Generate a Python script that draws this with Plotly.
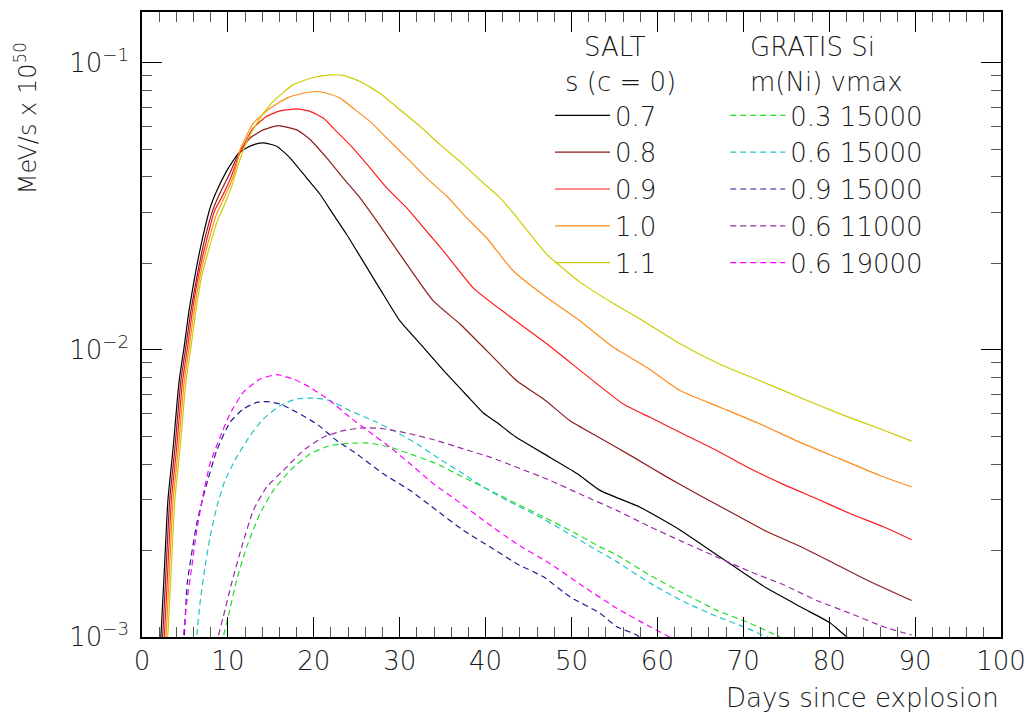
import plotly.graph_objects as go

# ---------------- data ----------------
salt_labels = ["0.7", "0.8", "0.9", "1.0", "1.1"]
salt_colors = ["#000000", "#8e1c1c", "#ff1a1a", "#ff8c1a", "#cccc00"]

s07_days = [2.0, 2.27, 2.68, 3.02, 3.59, 4.32, 4.92, 5.46, 6.15, 6.97, 7.99, 8.80, 9.83, 10.6, 11.2,
            12.2, 13.2, 14.2, 15.68, 17.23, 19.17, 20.72, 22.27, 23.83, 25.0, 27.7, 30.03, 32.75, 35.47,
            38.18, 39.7, 41.33, 42.49, 43.66, 47.5, 50.64, 53.32, 57.98, 62.63, 67.29, 72.72, 76.95,
            80.09, 82.07, 89.6]
s07_vals = [8e-4, 1.094e-3, 1.915e-3, 3.0e-3, 4.44e-3, 7.78e-3, 1.03e-2, 1.36e-2, 1.8e-2, 2.39e-2,
            3.16e-2, 3.63e-2, 4.18e-2, 4.55e-2, 4.82e-2, 5.05e-2, 5.2e-2, 5.25e-2, 5.11e-2, 4.66e-2,
            3.96e-2, 3.48e-2, 2.96e-2, 2.52e-2, 2.21e-2, 1.63e-2, 1.26e-2, 1.02e-2, 8.24e-3, 6.75e-3,
            6.04e-3, 5.58e-3, 5.24e-3, 4.94e-3, 4.22e-3, 3.71e-3, 3.24e-3, 2.83e-3, 2.36e-3, 1.9e-3,
            1.48e-3, 1.26e-3, 1.12e-3, 1.0e-3, 7.2e-4]

s08_days = [2.2, 2.47, 2.88, 3.22, 3.8, 4.52, 5.12, 5.68, 6.4, 7.25, 8.3, 9.15, 10.2, 10.8, 11.3,
            12.57, 14.12, 15.87, 18.01, 19.56, 21.5, 23.43, 25.38, 27.32, 30.03, 33.91, 37.02, 40.13,
            43.62, 46.72, 49.83, 53.32, 57.19, 61.08, 64.96, 68.84, 72.72, 76.6, 80.48, 84.36, 89.6]
s08_vals = [8e-4, 1.094e-3, 1.915e-3, 3.0e-3, 4.44e-3, 7.78e-3, 1.03e-2, 1.36e-2, 1.8e-2, 2.39e-2,
            3.1e-2, 3.55e-2, 4.1e-2, 4.5e-2, 4.85e-2, 5.46e-2, 5.83e-2, 6.03e-2, 5.83e-2, 5.4e-2,
            4.66e-2, 3.96e-2, 3.38e-2, 2.81e-2, 2.15e-2, 1.48e-2, 1.23e-2, 9.93e-3, 7.8e-3, 6.75e-3,
            5.66e-3, 4.93e-3, 4.23e-3, 3.61e-3, 3.11e-3, 2.69e-3, 2.33e-3, 2.07e-3, 1.81e-3, 1.58e-3,
            1.34e-3]

s09_days = [2.4, 2.67, 3.08, 3.42, 4.0, 4.72, 5.32, 5.86, 6.55, 7.4, 8.45, 9.3, 10.3, 11.0, 11.4,
            12.96, 14.52, 16.07, 18.01, 19.56, 21.1, 22.67, 24.6, 26.54, 28.49, 30.82, 33.5, 35.08,
            38.57, 42.46, 47.12, 51.77, 56.03, 59.14, 63.02, 66.9, 70.78, 74.66, 78.54, 82.42, 86.3, 89.6]
s09_vals = [8e-4, 1.094e-3, 1.915e-3, 3.0e-3, 4.44e-3, 7.78e-3, 1.03e-2, 1.36e-2, 1.8e-2, 2.33e-2,
            3.05e-2, 3.4e-2, 3.95e-2, 4.5e-2, 4.85e-2, 5.92e-2, 6.5e-2, 6.79e-2, 6.9e-2, 6.76e-2,
            6.41e-2, 5.75e-2, 5.03e-2, 4.3e-2, 3.66e-2, 3.12e-2, 2.51e-2, 2.21e-2, 1.64e-2, 1.33e-2,
            1.05e-2, 8.13e-3, 6.47e-3, 5.82e-3, 5.09e-3, 4.46e-3, 3.86e-3, 3.4e-3, 3.03e-3, 2.69e-3,
            2.42e-3, 2.18e-3]

s10_days = [2.6, 2.87, 3.28, 3.62, 4.2, 4.92, 5.52, 6.06, 6.75, 7.6, 8.65, 9.5, 10.4, 11.0, 11.4,
            12.96, 14.9, 16.85, 18.78, 20.34, 21.5, 23.05, 24.6, 26.54, 28.49, 30.82, 33.14, 35.47,
            37.8, 40.13, 43.23, 47.12, 51.0, 54.87, 58.75, 62.63, 67.29, 71.94, 76.6, 81.26, 85.91, 89.6]
s10_vals = [8e-4, 1.094e-3, 1.915e-3, 3.0e-3, 4.44e-3, 7.78e-3, 1.03e-2, 1.36e-2, 1.8e-2, 2.3e-2,
            2.95e-2, 3.35e-2, 3.85e-2, 4.4e-2, 4.95e-2, 6.15e-2, 6.93e-2, 7.52e-2, 7.82e-2, 7.93e-2,
            7.82e-2, 7.52e-2, 6.93e-2, 6.24e-2, 5.46e-2, 4.66e-2, 3.96e-2, 3.43e-2, 2.88e-2, 2.45e-2,
            1.88e-2, 1.52e-2, 1.26e-2, 1.02e-2, 8.69e-3, 7.21e-3, 6.31e-3, 5.52e-3, 4.76e-3, 4.17e-3,
            3.65e-3, 3.33e-3]

s11_days = [2.8, 3.07, 3.48, 3.82, 4.4, 5.12, 5.72, 6.26, 6.95, 7.8, 8.85, 9.7, 10.5, 11.2, 12.19,
            13.74, 15.29, 17.61, 19.94, 21.89, 23.43, 25.38, 27.7, 30.03, 32.36, 34.69, 37.02, 39.35,
            41.68, 43.23, 47.12, 51.0, 54.87, 57.98, 62.63, 67.29, 71.94, 76.6, 81.26, 85.91, 89.6]
s11_vals = [8e-4, 1.094e-3, 1.915e-3, 3.0e-3, 4.44e-3, 7.78e-3, 1.03e-2, 1.36e-2, 1.8e-2, 2.25e-2,
            2.85e-2, 3.25e-2, 3.75e-2, 4.4e-2, 5.32e-2, 6.41e-2, 7.33e-2, 8.38e-2, 8.87e-2, 9.06e-2,
            9.02e-2, 8.59e-2, 7.82e-2, 6.85e-2, 6.0e-2, 5.18e-2, 4.53e-2, 3.9e-2, 3.38e-2, 2.99e-2,
            2.15e-2, 1.72e-2, 1.45e-2, 1.28e-2, 1.05e-2, 8.91e-3, 7.8e-3, 6.82e-3, 5.98e-3, 5.31e-3,
            4.81e-3]

gratis_labels = ["0.3 15000", "0.6 15000", "0.9 15000", "0.6 11000", "0.6 19000"]
gratis_colors = ["#22dd22", "#22c4c4", "#1f1f8f", "#9a2aa8", "#ff00ff"]

g03_15_days = [9.2, 9.47, 10.05, 11.02, 12.19, 13.74, 15.29, 17.23, 19.56, 21.89, 24.21, 26.54, 28.87,
               31.2, 34.31, 37.4, 40.51, 43.62, 46.72, 49.83, 53.32, 55.26, 59.14, 63.02, 66.9, 70.78,
               74.27, 76.0]
g03_15_vals = [8e-4, 1.0e-3, 1.18e-3, 1.58e-3, 2.06e-3, 2.69e-3, 3.24e-3, 3.8e-3, 4.34e-3, 4.64e-3,
               4.73e-3, 4.73e-3, 4.58e-3, 4.34e-3, 4.01e-3, 3.6e-3, 3.24e-3, 2.91e-3, 2.62e-3, 2.35e-3,
               2.06e-3, 1.93e-3, 1.64e-3, 1.42e-3, 1.24e-3, 1.116e-3, 1.0e-3, 9.4e-4]

g06_15_days = [6.2, 6.37, 6.75, 7.33, 7.92, 8.7, 9.66, 11.02, 12.57, 14.12, 16.07, 18.01, 20.34, 21.89,
               24.21, 27.32, 29.65, 31.98, 34.31, 37.4, 39.73, 42.84, 45.95, 49.05, 52.15, 55.26, 59.14,
               63.02, 66.9, 70.0, 73.1, 75.0]
g06_15_vals = [8e-4, 1.0e-3, 1.31e-3, 1.75e-3, 2.23e-3, 2.83e-3, 3.51e-3, 4.23e-3, 5.02e-3, 5.74e-3,
               6.39e-3, 6.75e-3, 6.78e-3, 6.65e-3, 6.14e-3, 5.59e-3, 5.16e-3, 4.71e-3, 4.23e-3, 3.7e-3,
               3.33e-3, 2.95e-3, 2.65e-3, 2.35e-3, 2.07e-3, 1.83e-3, 1.54e-3, 1.33e-3, 1.18e-3, 1.086e-3,
               9.9e-4, 9.2e-4]

g09_15_days = [4.7, 4.92, 5.27, 6.37, 7.33, 8.7, 10.24, 11.79, 13.35, 14.52, 16.07, 18.01, 20.34, 22.67,
               25.0, 28.09, 31.2, 34.31, 37.4, 40.51, 43.62, 46.72, 49.83, 53.32, 55.26, 57.6, 59.5]
g09_15_vals = [8e-4, 1.0e-3, 1.54e-3, 2.48e-3, 3.24e-3, 4.46e-3, 5.59e-3, 6.22e-3, 6.56e-3, 6.6e-3,
               6.48e-3, 6.06e-3, 5.52e-3, 4.83e-3, 4.34e-3, 3.7e-3, 3.24e-3, 2.76e-3, 2.35e-3, 2.06e-3,
               1.8e-3, 1.62e-3, 1.38e-3, 1.21e-3, 1.086e-3, 1.016e-3, 9.0e-4]

g06_11_days = [8.6, 8.88, 9.47, 10.44, 11.61, 12.96, 14.52, 16.45, 18.78, 21.1, 23.43, 25.76, 28.09,
               31.2, 34.31, 37.4, 40.51, 43.62, 47.5, 51.37, 55.26, 59.14, 63.02, 66.9, 70.78, 74.66,
               78.54, 82.42, 86.3, 89.6]
g06_11_vals = [8e-4, 1.0e-3, 1.18e-3, 1.54e-3, 2.06e-3, 2.76e-3, 3.33e-3, 3.8e-3, 4.46e-3, 4.96e-3,
               5.23e-3, 5.35e-3, 5.31e-3, 5.1e-3, 4.83e-3, 4.52e-3, 4.23e-3, 3.9e-3, 3.51e-3, 3.11e-3,
               2.76e-3, 2.42e-3, 2.14e-3, 1.9e-3, 1.69e-3, 1.52e-3, 1.34e-3, 1.21e-3, 1.086e-3, 1.016e-3]

g06_19_days = [4.6, 4.81, 5.2, 5.79, 6.37, 7.14, 7.92, 9.08, 10.24, 11.79, 13.74, 15.68, 17.61, 19.56,
               21.89, 24.21, 26.54, 28.87, 31.2, 33.91, 36.64, 39.73, 43.62, 47.5, 51.37, 55.26, 59.14,
               61.47, 63.0]
g06_19_vals = [8e-4, 1.0e-3, 1.31e-3, 1.75e-3, 2.35e-3, 3.15e-3, 4.01e-3, 4.96e-3, 5.98e-3, 7.11e-3,
               7.91e-3, 8.19e-3, 7.91e-3, 7.4e-3, 6.65e-3, 5.82e-3, 5.16e-3, 4.58e-3, 4.01e-3, 3.42e-3,
               2.99e-3, 2.55e-3, 2.11e-3, 1.8e-3, 1.5e-3, 1.26e-3, 1.086e-3, 9.95e-4, 9.0e-4]

x_ticks = [0, 10, 20, 30, 40, 50, 60, 70, 80, 90, 100]
y_ticks = [1e-3, 1e-2, 1e-1]
y_ticktext = ["10<sup>\u22123</sup>", "10<sup>\u22122</sup>", "10<sup>\u22121</sup>"]
y_minor = [m * 10.0 ** e for e in (-3, -2) for m in range(2, 10)]

salt_series = [(s07_days, s07_vals), (s08_days, s08_vals), (s09_days, s09_vals),
               (s10_days, s10_vals), (s11_days, s11_vals)]
gratis_series = [(g03_15_days, g03_15_vals), (g06_15_days, g06_15_vals), (g09_15_days, g09_15_vals),
                 (g06_11_days, g06_11_vals), (g06_19_days, g06_19_vals)]

FONT = "DejaVu Sans"
TXT = "#1a1a1a"
FS = 26
W = 200


def fnt(size=FS):
    return dict(family=FONT, size=size, color=TXT, weight=W)


fig = go.Figure()
for (d, v), lab, col in zip(salt_series, salt_labels, salt_colors):
    fig.add_trace(go.Scatter(x=d, y=v, mode="lines", name=lab, legend="legend",
                             line=dict(color=col, width=1.2, shape="spline", smoothing=0.5)))
for (d, v), lab, col in zip(gratis_series, gratis_labels, gratis_colors):
    fig.add_trace(go.Scatter(x=d, y=v, mode="lines", name=lab, legend="legend2",
                             line=dict(color=col, width=1.2, dash="6px,4px", shape="spline",
                                       smoothing=0.5)))

fig.update_layout(
    width=1024, height=711,
    margin=dict(l=134, r=31, t=2, b=82),
    paper_bgcolor="white", plot_bgcolor="white",
    font=fnt(),
    legend=dict(x=0.475, y=0.872, xanchor="left", yanchor="top", bgcolor="rgba(0,0,0,0)",
                font=fnt(), tracegroupgap=0, itemwidth=55),
    legend2=dict(x=0.679, y=0.872, xanchor="left", yanchor="top", bgcolor="rgba(0,0,0,0)",
                 font=fnt(), tracegroupgap=0, itemwidth=55),
    xaxis=dict(range=[0, 100], tickvals=x_ticks, ticks="inside", ticklen=20, tickwidth=1.2,
               tickcolor="black", showline=True, linecolor="black", linewidth=1.5, mirror="ticks",
               showgrid=False, zeroline=False, tickfont=fnt(),
               minor=dict(dtick=2, tick0=0, ticks="inside", ticklen=10, tickwidth=1.2,
                          tickcolor="#555555", showgrid=False)),
    yaxis=dict(type="log", range=[-3, -0.8239], tickvals=y_ticks, ticktext=y_ticktext,
               ticks="inside", ticklen=20, tickwidth=1.2, tickcolor="black", showline=True,
               linecolor="black", linewidth=1.5, mirror="ticks", showgrid=False, zeroline=False,
               tickfont=fnt(), ticklabelstandoff=6,
               minor=dict(tickmode="array", tickvals=y_minor, ticks="inside", ticklen=10,
                          tickwidth=1.2, tickcolor="#555555", showgrid=False)),
    annotations=[
        dict(text="SALT", xref="paper", yref="paper", x=0.5506, y=0.944, xanchor="center",
             yanchor="middle", showarrow=False, font=fnt()),
        dict(text="s (c = 0)", xref="paper", yref="paper", x=0.5576, y=0.888, xanchor="center",
             yanchor="middle", showarrow=False, font=fnt()),
        dict(text="GRATIS Si", xref="paper", yref="paper", x=0.7055, y=0.944, xanchor="left",
             yanchor="middle", showarrow=False, font=fnt()),
        dict(text="m(Ni) vmax", xref="paper", yref="paper", x=0.7055, y=0.888, xanchor="left",
             yanchor="middle", showarrow=False, font=fnt()),
        dict(text="Days since explosion", xref="paper", yref="paper", x=1.0, y=-0.097,
             xanchor="right", yanchor="middle", showarrow=False, font=fnt()),
        dict(text="MeV/s x 10<sup>50</sup>", xref="paper", yref="paper", x=-0.135, y=0.955,
             xanchor="center", yanchor="top", textangle=-90, showarrow=False,
             font=fnt(FS - 2)),
    ],
)

fig.write_html("out.html")
